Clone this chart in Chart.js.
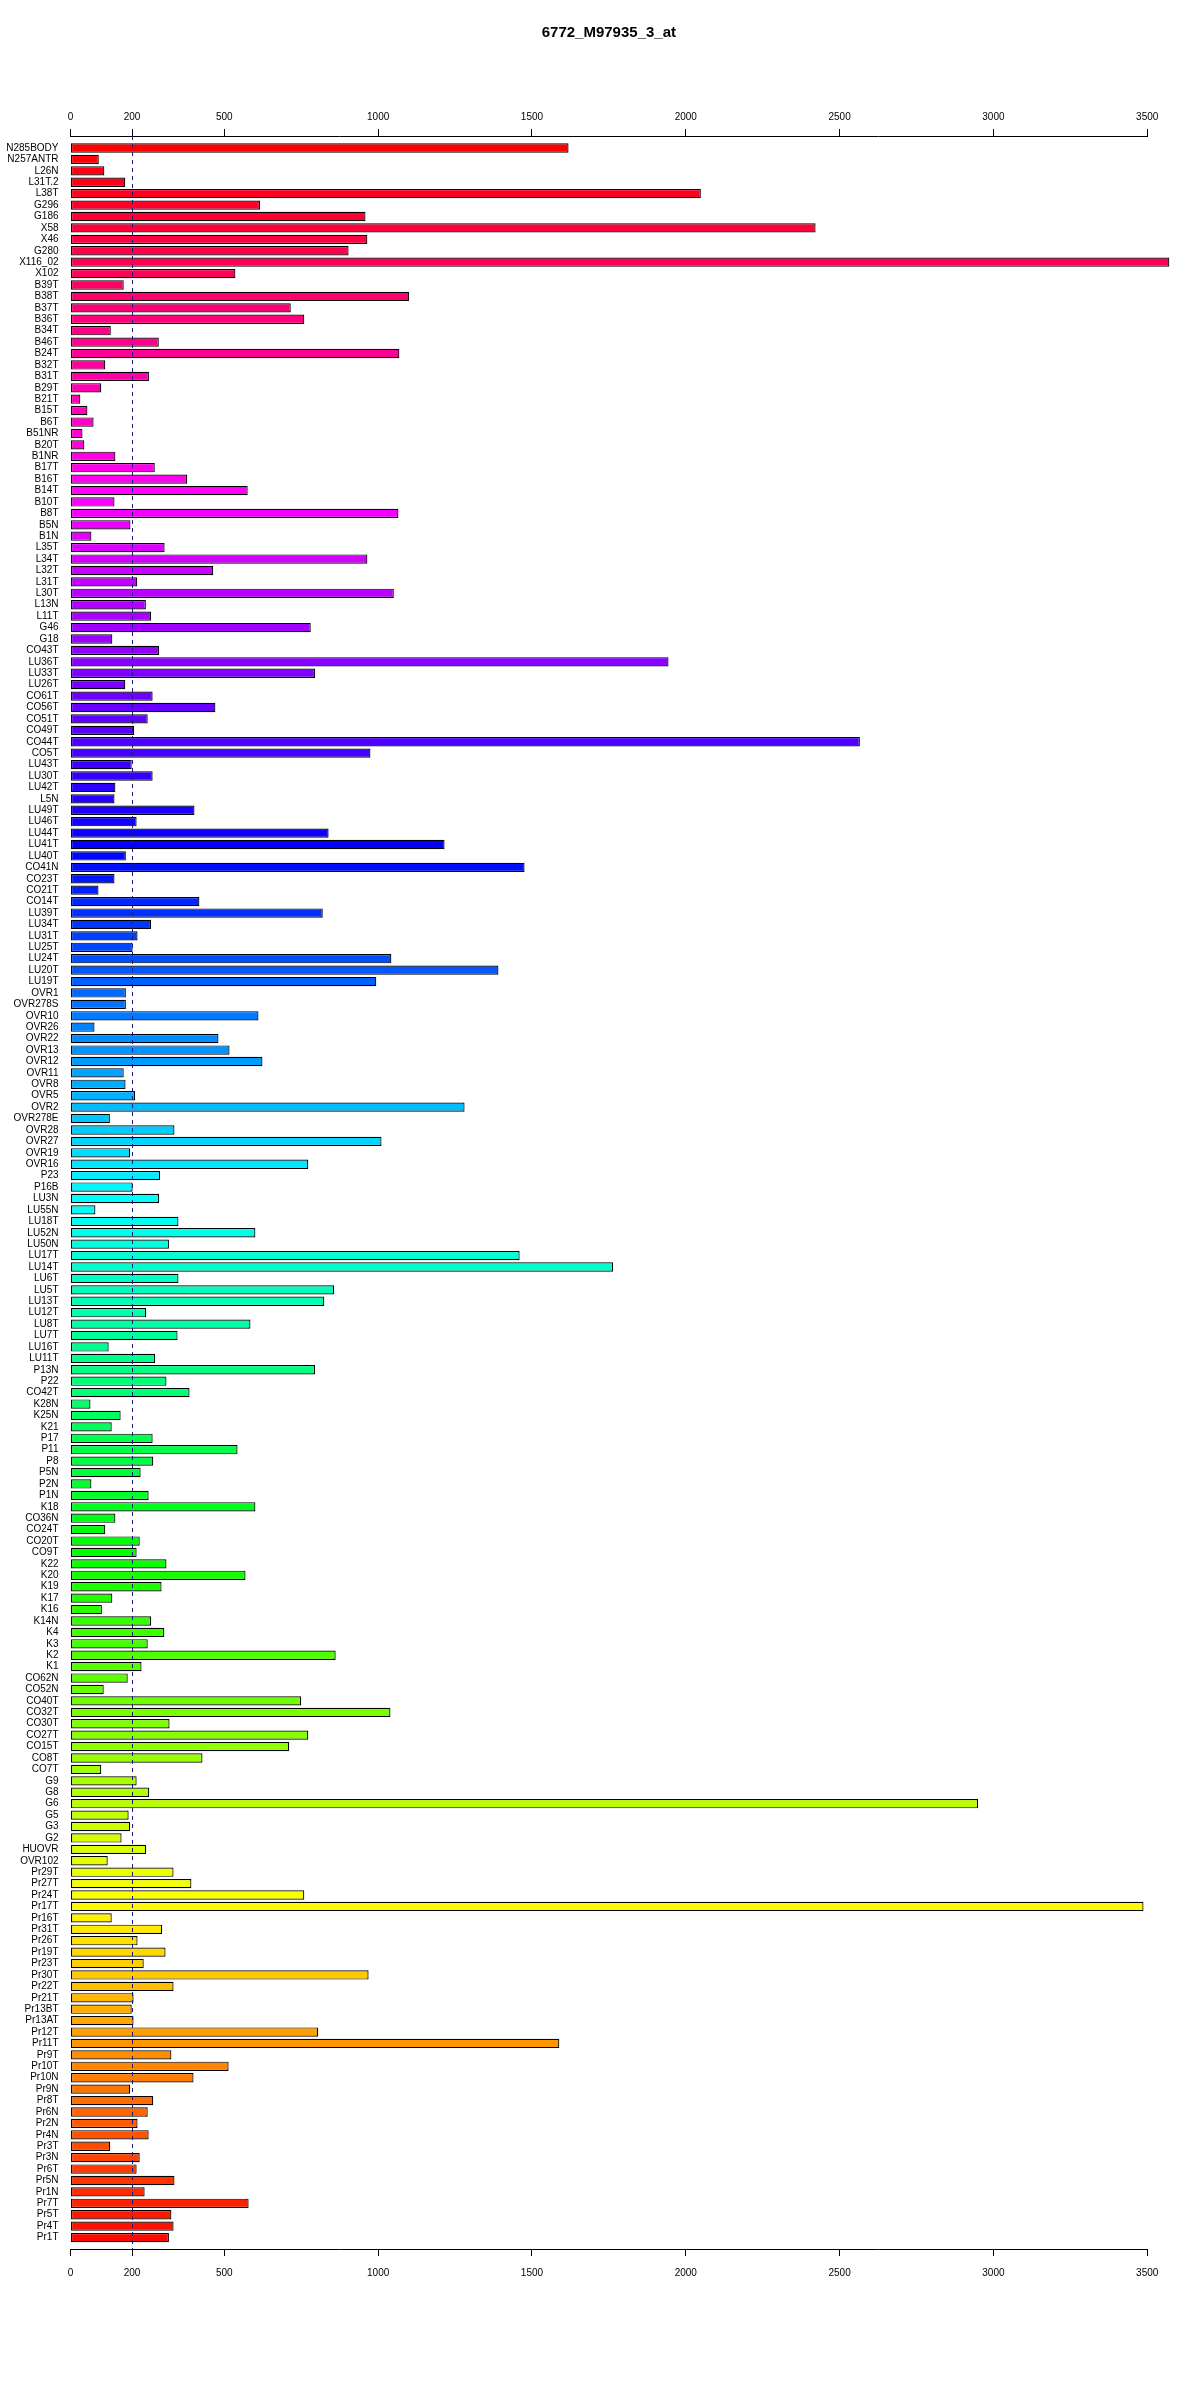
<!DOCTYPE html>
<html>
<head>
<meta charset="utf-8">
<script src="https://cdn.jsdelivr.net/npm/chart.js@4/dist/chart.umd.min.js"></script>
<style>
html,body{margin:0;padding:0;background:#fff;}
canvas{display:block;}
</style>
</head>
<body>
<canvas id="c" width="1200" height="2400"></canvas>
<script>
const chartTitle = '6772_M97935_3_at';
const categories = ['N285BODY','N257ANTR','L26N','L31T.2','L38T','G296','G186','X58','X46','G280','X116_02','X102','B39T','B38T','B37T','B36T','B34T','B46T','B24T','B32T','B31T','B29T','B21T','B15T','B6T','B51NR','B20T','B1NR','B17T','B16T','B14T','B10T','B8T','B5N','B1N','L35T','L34T','L32T','L31T','L30T','L13N','L11T','G46','G18','CO43T','LU36T','LU33T','LU26T','CO61T','CO56T','CO51T','CO49T','CO44T','CO5T','LU43T','LU30T','LU42T','L5N','LU49T','LU46T','LU44T','LU41T','LU40T','CO41N','CO23T','CO21T','CO14T','LU39T','LU34T','LU31T','LU25T','LU24T','LU20T','LU19T','OVR1','OVR278S','OVR10','OVR26','OVR22','OVR13','OVR12','OVR11','OVR8','OVR5','OVR2','OVR278E','OVR28','OVR27','OVR19','OVR16','P23','P16B','LU3N','LU55N','LU18T','LU52N','LU50N','LU17T','LU14T','LU6T','LU5T','LU13T','LU12T','LU8T','LU7T','LU16T','LU11T','P13N','P22','CO42T','K28N','K25N','K21','P17','P11','P8','P5N','P2N','P1N','K18','CO36N','CO24T','CO20T','CO9T','K22','K20','K19','K17','K16','K14N','K4','K3','K2','K1','CO62N','CO52N','CO40T','CO32T','CO30T','CO27T','CO15T','CO8T','CO7T','G9','G8','G6','G5','G3','G2','HUOVR','OVR102','Pr29T','Pr27T','Pr24T','Pr17T','Pr16T','Pr31T','Pr26T','Pr19T','Pr23T','Pr30T','Pr22T','Pr21T','Pr13BT','Pr13AT','Pr12T','Pr11T','Pr9T','Pr10T','Pr10N','Pr9N','Pr8T','Pr6N','Pr2N','Pr4N','Pr3T','Pr3N','Pr6T','Pr5N','Pr1N','Pr7T','Pr5T','Pr4T','Pr1T'];
const values = [1619,92,110,178,2049,616,959,2422,965,904,3572,536,173,1101,716,760,131,287,1069,113,255,100,32,55,75,39,45,146,274,379,576,143,1066,195,68,306,965,464,217,1051,245,262,781,136,288,1944,795,178,267,471,251,207,2566,975,199,267,146,143,403,215,839,1216,180,1476,143,91,419,820,262,218,202,1043,1391,994,180,180,611,78,481,517,624,173,179,210,1281,128,338,1011,194,773,291,202,288,81,351,601,320,1460,1764,351,857,825,246,585,348,124,275,795,312,387,65,163,134,267,543,269,228,68,254,601,146,113,225,215,312,569,296,136,102,262,305,251,862,231,186,108,750,1040,322,773,711,429,100,215,256,2950,189,194,166,246,121,335,393,760,3488,134,298,218,309,238,969,335,205,199,205,805,1589,328,514,400,194,269,251,218,254,129,225,215,338,241,579,328,335,320];
const xTicks = [0,200,500,1000,1500,2000,2500,3000,3500];
const threshold = 200;

const n = categories.length;
const colors = categories.map((_, i) => `hsl(${(360 * (n - i) / n) % 360},100%,50%)`);
const points = values.map((v, i) => ({x: v, y: i}));

const thresholdLine = {
  id: 'thresholdLine',
  afterDatasetsDraw(chart) {
    const xs = chart.scales.x, ca = chart.chartArea, ctx = chart.ctx;
    const px = Math.round(xs.getPixelForValue(threshold)) + 0.5;
    ctx.save();
    ctx.strokeStyle = '#1a1a80';
    ctx.lineWidth = 1;
    ctx.setLineDash([4, 4]);
    ctx.beginPath();
    ctx.moveTo(px, ca.top);
    ctx.lineTo(px, ca.bottom);
    ctx.stroke();
    ctx.restore();
  }
};

const font = {family: '"Liberation Sans", Arial, sans-serif', size: 10};
const setTicks = (scale) => { scale.ticks = xTicks.map(v => ({value: v})); };

new Chart(document.getElementById('c'), {
  type: 'bar',
  data: {
    datasets: [{
      data: points,
      backgroundColor: colors,
      borderColor: '#000',
      borderWidth: 1.2,
      borderSkipped: false,
      barPercentage: 0.815,
      categoryPercentage: 1,
      clip: false,
      xAxisID: 'x',
      yAxisID: 'y'
    }]
  },
  options: {
    indexAxis: 'y',
    responsive: false,
    animation: false,
    devicePixelRatio: 1,
    layout: {padding: {left: 0, right: 52.8, top: 0, bottom: 111}},
    plugins: {
      legend: {display: false},
      tooltip: {enabled: false},
      title: {
        display: true,
        text: chartTitle,
        fullSize: false,
        color: '#000',
        font: {family: '"Liberation Sans", Arial, sans-serif', size: 15, weight: 'bold'},
        padding: {top: 23.5, bottom: 10}
      }
    },
    scales: {
      y: {
        type: 'linear',
        reverse: true,
        offset: false,
        min: -1.05,
        max: 184,
        position: 'left',
        grid: {display: false, drawTicks: false, offset: false},
        border: {display: false},
        afterBuildTicks: (scale) => { scale.ticks = categories.map((_, i) => ({value: i})); },
        afterFit: (scale) => { scale.width = 70.5; },
        ticks: {
          autoSkip: false,
          padding: 12,
          color: '#000',
          font: font,
          callback: (v) => categories[v]
        }
      },
      x: {
        type: 'linear',
        position: 'bottom',
        min: 0,
        max: 3500,
        afterBuildTicks: setTicks,
        afterFit: (scale) => { scale.height = 40; },
        grid: {display: true, drawOnChartArea: false, drawTicks: true, tickLength: 7, color: '#000', lineWidth: 1},
        border: {display: true, color: '#000', width: 1},
        ticks: {autoSkip: false, maxRotation: 0, padding: 11, color: '#000', font: font, callback: (v) => String(v)}
      },
      x2: {
        type: 'linear',
        position: 'top',
        min: 0,
        max: 3500,
        afterBuildTicks: setTicks,
        afterFit: (scale) => { scale.height = 84.5; },
        grid: {display: true, drawOnChartArea: false, drawTicks: true, tickLength: 7, color: '#000', lineWidth: 1},
        border: {display: true, color: '#000', width: 1},
        ticks: {autoSkip: false, maxRotation: 0, padding: 6, color: '#000', font: font, callback: (v) => String(v)}
      }
    }
  },
  plugins: [thresholdLine]
});
</script>
</body>
</html>
